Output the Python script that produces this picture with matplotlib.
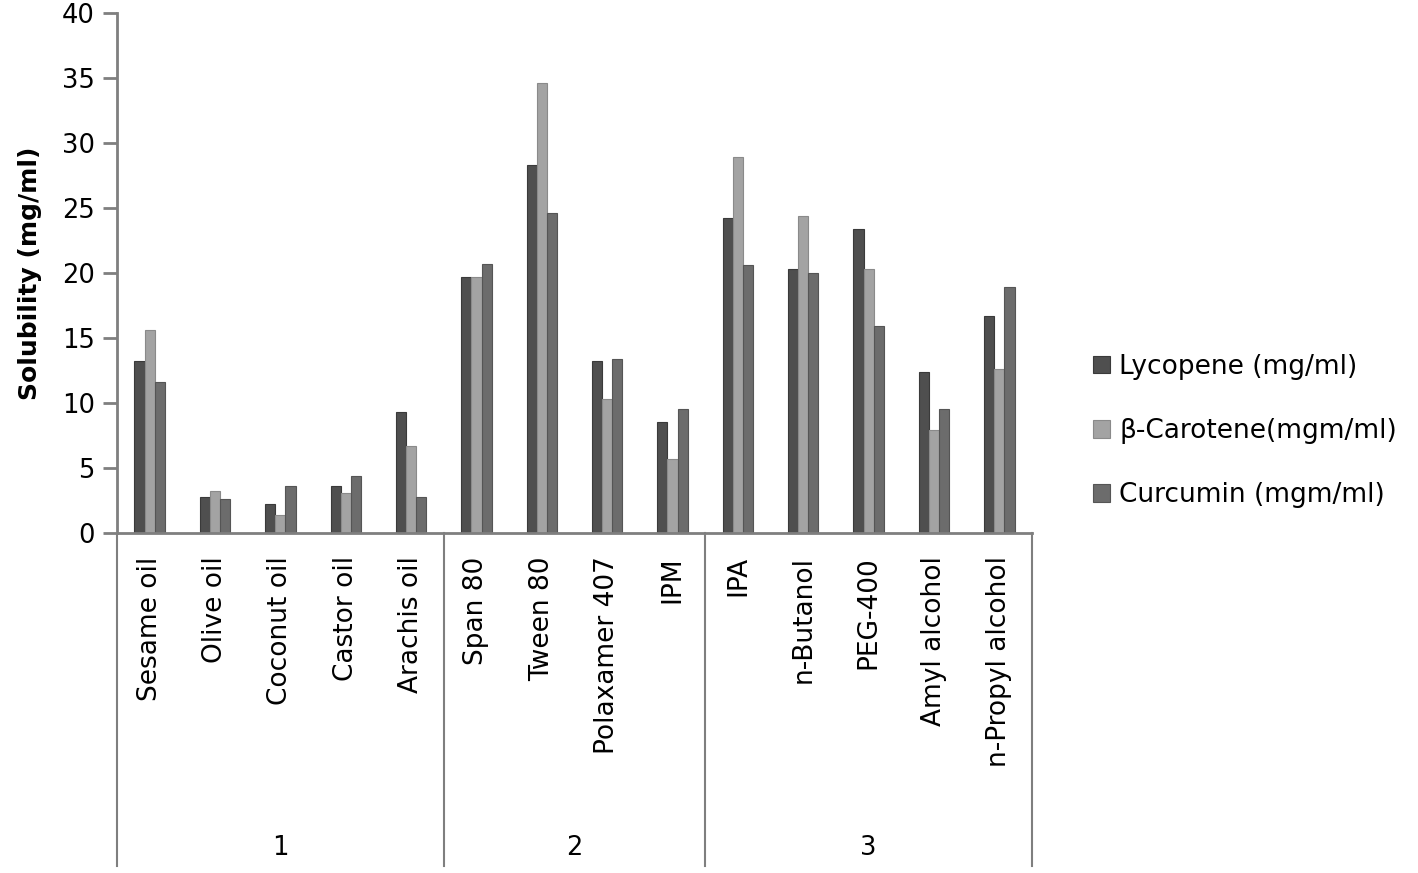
import matplotlib
matplotlib.use("Agg")
import matplotlib.pyplot as plt
import numpy as np
from matplotlib.transforms import blended_transform_factory

categories = ["Sesame oil", "Olive oil", "Coconut oil", "Castor oil", "Arachis oil",
              "Span 80", "Tween 80", "Polaxamer 407", "IPM",
              "IPA", "n-Butanol", "PEG-400", "Amyl alcohol", "n-Propyl alcohol"]
groups = ["1", "2", "3"]
group_sizes = [5, 4, 5]
series_names = ["Lycopene (mg/ml)", "\u03b2-Carotene(mgm/ml)", "Curcumin (mgm/ml)"]
lycopene = [13.2, 2.8, 2.2, 3.6, 9.3, 19.7, 28.3, 13.2, 8.5, 24.2, 20.3, 23.4, 12.4, 16.7]
carotene = [15.6, 3.2, 1.4, 3.1, 6.7, 19.7, 34.6, 10.3, 5.7, 28.9, 24.4, 20.3, 7.9, 12.6]
curcumin = [11.6, 2.6, 3.6, 4.4, 2.8, 20.7, 24.6, 13.4, 9.5, 20.6, 20.0, 15.9, 9.5, 18.9]
yticks = [0, 5, 10, 15, 20, 25, 30, 35, 40]

plt.rcParams['font.family'] = ["DejaVu Sans"]

fig = plt.figure(figsize=(14.18, 8.73), dpi=100)
ax = fig.add_axes([0.0825, 0.3895, 0.6453, 0.5956])

x = np.arange(len(categories))
w = 0.155
colors = ["#4f4f4f", "#a3a3a3", "#6c6c6c"]
edges = ["#3a3a3a", "#8a8a8a", "#555555"]
for i, (vals, name) in enumerate(zip([lycopene, carotene, curcumin], series_names)):
    ax.bar(x + (i - 1) * w, vals, width=w, color=colors[i], edgecolor=edges[i],
           linewidth=0.8, label=name)

ax.set_xlim(-0.5, len(categories) - 0.5)
ax.set_ylim(0, 40)
ax.set_yticks(yticks)
ax.tick_params(axis='y', direction='out', length=10, width=2, color="#7f7f7f",
               labelsize=18.5, pad=6)
ax.set_xticks([])
for s in ["top", "right"]:
    ax.spines[s].set_visible(False)
for s in ["left", "bottom"]:
    ax.spines[s].set_color("#7f7f7f")
    ax.spines[s].set_linewidth(2)

ax.set_ylabel("Solubility (mg/ml)", fontsize=18, fontweight="bold", labelpad=14)

trans = blended_transform_factory(ax.transData, ax.transAxes)
for xi, c in zip(x, categories):
    ax.text(xi, -0.045, c, rotation=90, ha="center", va="top", fontsize=19,
            transform=trans)

# group separators and group labels
bounds = np.concatenate([[0], np.cumsum(group_sizes)]) - 0.5
for b in bounds:
    ax.plot([b, b], [0, -0.64], transform=trans, color="#7f7f7f", lw=1.5,
            clip_on=False)
for g, lo, hi in zip(groups, bounds[:-1], bounds[1:]):
    ax.text((lo + hi) / 2, -0.605, g, ha="center", va="center", fontsize=18.5,
            transform=trans)

leg = ax.legend(loc="center left", bbox_to_anchor=(1.055, 0.196), frameon=False,
                fontsize=19, handlelength=0.65, handleheight=0.65,
                handletextpad=0.35, labelspacing=1.45, borderaxespad=0)

fig.savefig("out.png", dpi=100, facecolor="white")
